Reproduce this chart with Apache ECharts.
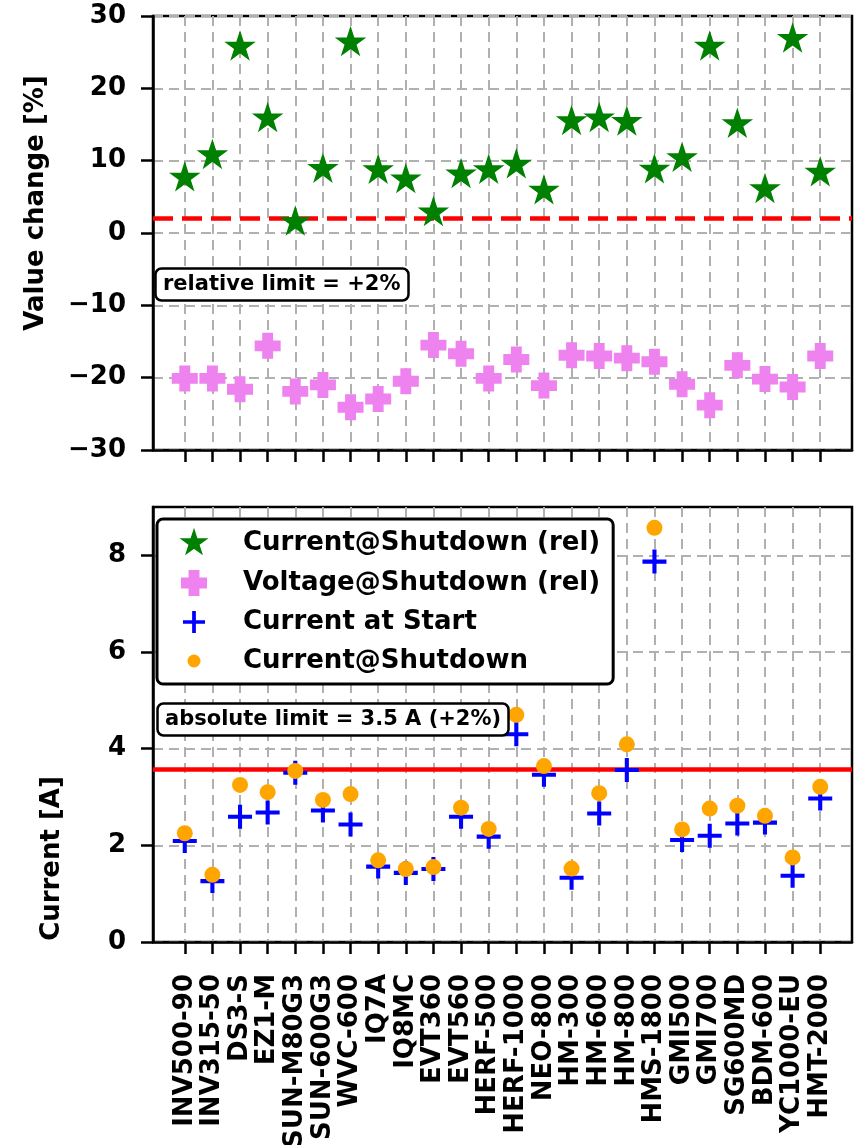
<!DOCTYPE html>
<html>
<head>
<meta charset="utf-8">
<script src="https://cdn.jsdelivr.net/npm/echarts@6/dist/echarts.min.js"></script>
<style>
  html, body { margin: 0; padding: 0; background: #fff; }
  #main { width: 855px; height: 1145px; }
</style>
</head>
<body>
<div id="main"></div>
<script>
// inverter models on the x axis
const categories = ['INV500-90', 'INV315-50', 'DS3-S', 'EZ1-M', 'SUN-M80G3', 'SUN-600G3', 'WVC-600',
  'IQ7A', 'IQ8MC', 'EVT360', 'EVT560', 'HERF-500', 'HERF-1000', 'NEO-800', 'HM-300', 'HM-600',
  'HM-800', 'HMS-1800', 'GMI500', 'GMI700', 'SG600MD', 'BDM-600', 'YC1000-EU', 'HMT-2000']

// top panel, relative change [%]
const currentShutdownRel = [7.8, 10.9, 25.9, 16.0, 1.7, 9.0, 26.5, 8.85, 7.55, 3.0, 8.25, 8.85,
  9.6, 6.0, 15.6, 16.0, 15.5, 8.9, 10.5, 25.9, 15.2, 6.2, 27.0, 8.5]
const voltageShutdownRel = [-20.1, -20.1, -21.6, -15.6, -21.9, -21.0, -24.1, -22.95, -20.5, -15.5, -16.7, -20.1,
  -17.5, -21.1, -16.9, -17.0, -17.3, -17.8, -20.9, -23.8, -18.3, -20.2, -21.3, -17.0]

// bottom panel, current [A]
const currentStart = [2.09, 1.26, 2.59, 2.68, 3.50, 2.72, 2.43, 1.56, 1.43, 1.51, 2.59, 2.18,
  4.30, 3.46, 1.33, 2.66, 3.56, 7.87, 2.11, 2.20, 2.45, 2.47, 1.37, 2.97]
const currentShutdown = [2.25, 1.39, 3.25, 3.10, 3.54, 2.94, 3.06, 1.69, 1.51, 1.55, 2.78, 2.34,
  4.70, 3.64, 1.52, 3.08, 4.09, 8.57, 2.33, 2.76, 2.82, 2.61, 1.75, 3.21]

const relLimit = 2
const absLimit = 3.57
const relTicks = [-30, -20, -10, 0, 10, 20, 30]
const absTicks = [0, 2, 4, 6, 8]

const FONT = 'DejaVu Sans'
const idx = categories.map((c, i) => i)
const toPoints = arr => arr.map((v, i) => [i, v])

// marker shapes
const starPath = 'path://M50,0L38.78,34.55L2.45,34.55L31.84,55.9L20.61,90.45L50,69.1L79.39,90.45L68.16,55.9L97.55,34.55L61.22,34.55Z'
const fatPlusPath = 'path://M29,0L71,0L71,29L100,29L100,71L71,71L71,100L29,100L29,71L0,71L0,29L29,29Z'
const thinPlusPath = 'path://M41.5,0L58.5,0L58.5,41.5L100,41.5L100,58.5L58.5,58.5L58.5,100L41.5,100L41.5,58.5L0,58.5L0,41.5L41.5,41.5Z'
// legend icons padded with move-to points so they keep their relative size
const starIcon = 'path://M-4,-4M104,104M50,0L38.78,34.55L2.45,34.55L31.84,55.9L20.61,90.45L50,69.1L79.39,90.45L68.16,55.9L97.55,34.55L61.22,34.55Z'
const thinPlusIcon = 'path://M-9,-9M109,109M41.5,0L58.5,0L58.5,41.5L100,41.5L100,58.5L58.5,58.5L58.5,100L41.5,100L41.5,58.5L0,58.5L0,41.5L41.5,41.5Z'
const dotIcon = 'path://M0,0M100,100M50,25A25,25 0 1,1 50,75A25,25 0 1,1 50,25Z'

const gridLine = { show: true, lineStyle: { color: '#b0b0b0', width: 2, type: [10, 6] } }
const blackLine = { show: true, onZero: false, lineStyle: { color: '#000', width: 2.5 } }
const tickStyle = { show: true, inside: false, length: 12, lineStyle: { color: '#000', width: 2.5 } }
const labelFont = { fontFamily: FONT, fontWeight: 'bold', fontSize: 26, color: '#000' }

function makeXAxis(gridIndex, showLabels) {
  return {
    type: 'value',
    gridIndex: gridIndex,
    min: -1.15,
    max: 24.15,
    axisLine: blackLine,
    axisTick: Object.assign({ customValues: idx }, tickStyle),
    axisLabel: Object.assign({
      show: showLabels,
      customValues: idx,
      rotate: 90,
      margin: 32,
      formatter: v => categories[v]
    }, labelFont),
    splitLine: gridLine
  }
}

// namePad shifts the rotated title along the axis (left = up, right = down)
function makeYAxis(gridIndex, name, min, max, ticks, nameGap, namePad) {
  return {
    type: 'value',
    gridIndex: gridIndex,
    min: min,
    max: max,
    name: name,
    nameLocation: 'middle',
    nameRotate: 90,
    nameGap: nameGap,
    nameMoveOverlap: false,
    nameTextStyle: { fontFamily: FONT, fontWeight: 'bold', fontSize: 26, color: '#000', padding: namePad },
    axisLine: blackLine,
    axisTick: Object.assign({ customValues: ticks }, tickStyle),
    axisLabel: Object.assign({
      customValues: ticks,
      margin: 27,
      formatter: v => String(v).replace('-', '\u2212')
    }, labelFont),
    splitLine: gridLine
  }
}

const boxStyle = {
  backgroundColor: '#fff',
  borderColor: '#000',
  borderWidth: 2.5,
  borderRadius: 6,
  padding: [6, 8, 6, 8],
  textStyle: { fontFamily: FONT, fontWeight: 'bold', fontSize: 21, color: '#000' }
}

const myChart = echarts.init(document.getElementById('main'), null, { renderer: 'canvas' })

const option = {
  animation: false,
  backgroundColor: '#fff',
  title: [
    Object.assign({ text: 'relative limit = +2%', left: 155, top: 268 }, boxStyle),
    Object.assign({ text: 'absolute limit = 3.5 A (+2%)', left: 157, top: 703 }, boxStyle)
  ],
  legend: {
    orient: 'vertical',
    left: 157,
    top: 519,
    backgroundColor: '#fff',
    borderColor: '#000',
    borderWidth: 3,
    borderRadius: 6,
    padding: [10, 13, 10, 23],
    itemWidth: 26,
    itemHeight: 26,
    itemGap: 13,
    selectedMode: false,
    textStyle: { fontFamily: FONT, fontWeight: 'bold', fontSize: 26, color: '#000', padding: [0, 0, 0, 31] },
    data: [
      { name: 'Current@Shutdown (rel)', icon: starIcon },
      { name: 'Voltage@Shutdown (rel)', icon: fatPlusPath },
      { name: 'Current at Start', icon: thinPlusIcon },
      { name: 'Current@Shutdown', icon: dotIcon }
    ]
  },
  grid: [
    { left: 153, top: 16, width: 699, height: 434, outerBoundsMode: 'none', show: true, borderColor: '#000', borderWidth: 2.5, backgroundColor: 'transparent' },
    { left: 153, top: 507, width: 699, height: 435, outerBoundsMode: 'none', show: true, borderColor: '#000', borderWidth: 2.5, backgroundColor: 'transparent' }
  ],
  xAxis: [makeXAxis(0, false), makeXAxis(1, true)],
  yAxis: [
    makeYAxis(0, 'Value change [%]', -30, 30, relTicks, 104, [0, 0, 0, 60]),
    makeYAxis(1, 'Current [A]', 0, 9, absTicks, 88, [0, 268, 0, 0])
  ],
  series: [
    {
      name: 'Current@Shutdown (rel)',
      type: 'scatter',
      xAxisIndex: 0,
      yAxisIndex: 0,
      symbol: starPath,
      symbolSize: [27, 26],
      itemStyle: { color: '#008000', opacity: 1, borderColor: '#008000', borderWidth: 1.5 },
      data: toPoints(currentShutdownRel),
      markLine: {
        silent: true,
        z: 1,
        symbol: 'none',
        label: { show: false },
        lineStyle: { color: '#ff0000', width: 4.5, type: [20, 9] },
        data: [{ yAxis: relLimit }]
      }
    },
    {
      name: 'Voltage@Shutdown (rel)',
      type: 'scatter',
      xAxisIndex: 0,
      yAxisIndex: 0,
      symbol: fatPlusPath,
      symbolSize: 26,
      itemStyle: { color: '#ee82ee', opacity: 1 },
      data: toPoints(voltageShutdownRel)
    },
    {
      name: 'Current at Start',
      type: 'scatter',
      xAxisIndex: 1,
      yAxisIndex: 1,
      symbol: thinPlusPath,
      symbolSize: 24,
      itemStyle: { color: '#0000ff', opacity: 1 },
      data: toPoints(currentStart),
      markLine: {
        silent: true,
        z: 1,
        symbol: 'none',
        label: { show: false },
        lineStyle: { color: '#ff0000', width: 4.5, type: 'solid' },
        data: [{ yAxis: absLimit }]
      }
    },
    {
      name: 'Current@Shutdown',
      type: 'scatter',
      xAxisIndex: 1,
      yAxisIndex: 1,
      symbol: 'circle',
      symbolSize: 16,
      itemStyle: { color: '#ffa500', opacity: 1 },
      data: toPoints(currentShutdown)
    }
  ]
}

myChart.setOption(option)
window.addEventListener('resize', function () {
  myChart.resize()
})
</script>
</body>
</html>
